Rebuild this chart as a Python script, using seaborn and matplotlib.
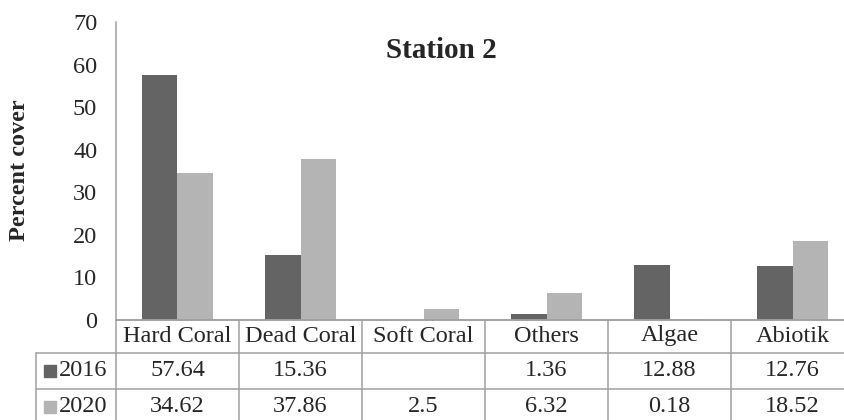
import numpy as np
import pandas as pd
import matplotlib
matplotlib.use("Agg")
import matplotlib.pyplot as plt
import seaborn as sns

categories = ["Hard Coral", "Dead Coral", "Soft Coral", "Others", "Algae", "Abiotik"]
years = ["2016", "2020"]
values_2016 = [57.64, 15.36, np.nan, 1.36, 12.88, 12.76]
values_2020 = [34.62, 37.86, 2.5, 6.32, 0.18, 18.52]
yticks = [0, 10, 20, 30, 40, 50, 60, 70]
colors = ["#646464", "#b4b4b4"]

sns.set_style("white")
plt.rcParams["font.family"] = ["Liberation Serif", "DejaVu Serif"]

df = pd.DataFrame({
    "Category": categories * 2,
    "Year": [years[0]] * len(categories) + [years[1]] * len(categories),
    "Value": values_2016 + values_2020,
})

FS = 17.5
W, H = 845, 420
fig = plt.figure(figsize=(W / 100, H / 100), dpi=100)
x0, x1 = 116, 854
ytop, ybot = 22, 320
ax = fig.add_axes([x0 / W, (H - ybot) / H, (x1 - x0) / W, (ybot - ytop) / H])

sns.barplot(data=df, x="Category", y="Value", hue="Year", order=categories,
            hue_order=years, palette=colors, width=0.57, saturation=1,
            ax=ax, legend=False, linewidth=0)
ax.set_xlim(-0.5, 5.5)
ax.set_ylim(0, 70)
ax.set_yticks(yticks)
ax.set_yticklabels([str(t) for t in yticks], fontsize=FS)
ax.tick_params(axis="y", length=0, pad=13.5)
ax.set_xticks([])
ax.set_xlabel("")
ax.set_ylabel("")
for s in ["top", "right"]:
    ax.spines[s].set_visible(False)
for s in ["left", "bottom"]:
    ax.spines[s].set_color("#a0a0a0")
    ax.spines[s].set_linewidth(1.1)

fig.text(20 / W, 1 - 170 / H, "Percent cover", rotation=90, ha="center", va="center",
         fontsize=FS, fontweight="bold")
fig.text(441 / W, 1 - 50 / H, "Station 2", ha="center", va="center",
         fontsize=21, fontweight="bold")

# data table below the axes
tab_h = 105
tax = fig.add_axes([x0 / W, (H - ybot - tab_h) / H, (x1 - x0) / W, tab_h / H])
tax.set_xlim(-0.5, 5.5)
tax.set_ylim(tab_h, 0)
tax.axis("off")
lc = "#a0a0a0"
lw = 1.1
left_x = -0.5 + (36 - x0) / 123.0
rows = [0, 33, 69, 105]
tax.plot([-0.5, 5.5], [0, 0], color=lc, lw=lw, clip_on=False)
for r in rows[1:]:
    tax.plot([left_x, 5.5], [r, r], color=lc, lw=lw, clip_on=False)
tax.plot([left_x, left_x], [33, 105], color=lc, lw=lw, clip_on=False)
for i in range(len(categories) + 1):
    tax.plot([i - 0.5, i - 0.5], [0, 105], color=lc, lw=lw, clip_on=False)

for i, c in enumerate(categories):
    tax.text(i, 16, c, ha="center", va="center", fontsize=FS)
for row_y, vals in zip([51, 87], [values_2016, values_2020]):
    for i, v in enumerate(vals):
        if not np.isnan(v):
            tax.text(i, row_y, f"{v:g}", ha="center", va="center", fontsize=FS)

sq_x = -0.5 + (50.5 - x0) / 123.0
tx_x = -0.5 + (59 - x0) / 123.0
for row_y, yr, col in zip([51, 87], years, colors):
    tax.plot([sq_x], [row_y], marker="s", markersize=9, color=col, clip_on=False, lw=0)
    tax.text(tx_x, row_y, yr, ha="left", va="center", fontsize=FS)

fig.savefig("out.png", dpi=100)
